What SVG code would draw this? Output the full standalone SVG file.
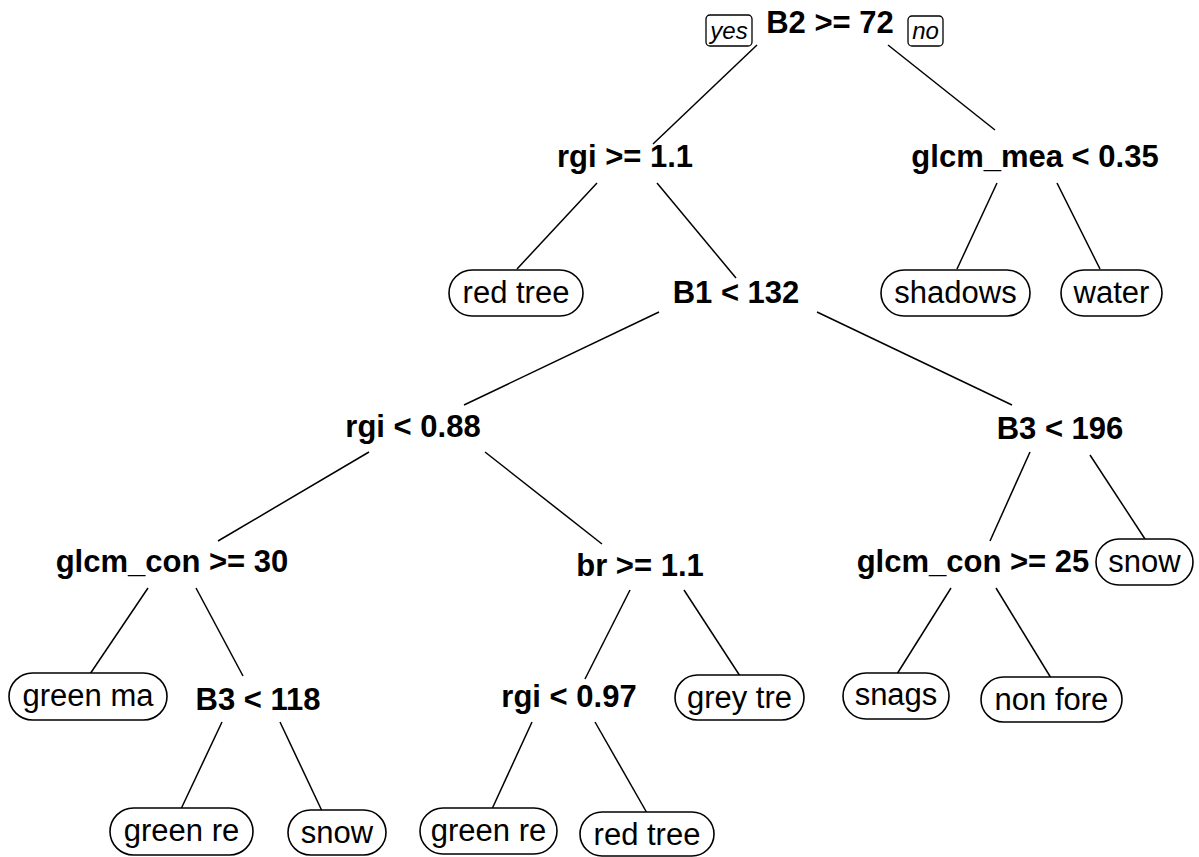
<svg xmlns="http://www.w3.org/2000/svg" width="1199" height="857" viewBox="0 0 1199 857">
  <style>
    .split { font-family: "Liberation Sans", Arial, sans-serif; font-weight: bold; font-size: 31px; text-anchor: middle; fill: #000; }
    .leaf rect { fill: #fff; stroke: #000; stroke-width: 1.6; }
    .leaf text { font-family: "Liberation Sans", Arial, sans-serif; font-size: 31px; text-anchor: middle; fill: #000; }
    .tag rect { fill: #fff; stroke: #000; stroke-width: 1.3; }
    .tag text { font-family: "Liberation Sans", Arial, sans-serif; font-style: italic; font-size: 24px; text-anchor: middle; fill: #000; }
    .edges line { stroke: #000; stroke-width: 1.5; }
  </style>
  <rect width="1199" height="857" fill="#fff"/>

  <!-- branches -->
  <g id="connectors" class="edges">
    <line x1="757" y1="45" x2="653" y2="144"/>
    <line x1="888" y1="45" x2="995" y2="130"/>
    <line x1="597" y1="183" x2="517" y2="269"/>
    <line x1="657" y1="183" x2="736" y2="278"/>
    <line x1="997" y1="183" x2="957" y2="269"/>
    <line x1="1057" y1="183" x2="1100" y2="269"/>
    <line x1="659" y1="312" x2="464" y2="405"/>
    <line x1="817" y1="312" x2="1012" y2="405"/>
    <line x1="369" y1="452" x2="218" y2="541"/>
    <line x1="485" y1="452" x2="602" y2="544"/>
    <line x1="1030" y1="452" x2="990" y2="541"/>
    <line x1="1090" y1="455" x2="1145" y2="539"/>
    <line x1="148" y1="588" x2="90" y2="674"/>
    <line x1="196" y1="588" x2="243" y2="676"/>
    <line x1="630" y1="590" x2="585" y2="679"/>
    <line x1="684" y1="590" x2="740" y2="676"/>
    <line x1="951" y1="588" x2="897" y2="674"/>
    <line x1="996" y1="588" x2="1051" y2="678"/>
    <line x1="222" y1="722" x2="181" y2="809"/>
    <line x1="280" y1="722" x2="322" y2="811"/>
    <line x1="532" y1="722" x2="492" y2="809"/>
    <line x1="595" y1="722" x2="647" y2="813"/>
  </g>

  <!-- yes / no tags at the root -->
  <g id="tag-yes" class="tag">
    <rect x="706" y="15" width="46" height="31" rx="4"/>
    <text x="729" y="39">yes</text>
  </g>
  <g id="tag-no" class="tag">
    <rect x="908" y="16" width="35" height="30" rx="4"/>
    <text x="925.5" y="39">no</text>
  </g>

  <!-- split nodes -->
  <g id="n-B2"><text class="split" x="830" y="33">B2 &gt;= 72</text></g>
  <g id="n-rgi-1.1"><text class="split" x="625" y="167">rgi &gt;= 1.1</text></g>
  <g id="n-glcm-mea"><text class="split" x="1035" y="167">glcm_mea &lt; 0.35</text></g>
  <g id="n-B1"><text class="split" x="736" y="303">B1 &lt; 132</text></g>
  <g id="n-rgi-0.88"><text class="split" x="413" y="437">rgi &lt; 0.88</text></g>
  <g id="n-B3-196"><text class="split" x="1060" y="439">B3 &lt; 196</text></g>
  <g id="n-glcm-con-30"><text class="split" x="172" y="572">glcm_con &gt;= 30</text></g>
  <g id="n-br"><text class="split" x="640" y="576">br &gt;= 1.1</text></g>
  <g id="n-glcm-con-25"><text class="split" x="973" y="572">glcm_con &gt;= 25</text></g>
  <g id="n-B3-118"><text class="split" x="258" y="710">B3 &lt; 118</text></g>
  <g id="n-rgi-0.97"><text class="split" x="569" y="707">rgi &lt; 0.97</text></g>

  <!-- leaves -->
  <g id="leaf-red-tree-1" class="leaf">
    <rect x="449" y="270" width="134" height="46" rx="23"/>
    <text x="516" y="303">red tree</text>
  </g>
  <g id="leaf-shadows" class="leaf">
    <rect x="881" y="270" width="149" height="46" rx="23"/>
    <text x="955.5" y="303">shadows</text>
  </g>
  <g id="leaf-water" class="leaf">
    <rect x="1061" y="270" width="101" height="46" rx="23"/>
    <text x="1111.5" y="303">water</text>
  </g>
  <g id="leaf-snow-1" class="leaf">
    <rect x="1096" y="539" width="97" height="46" rx="23"/>
    <text x="1144.5" y="572">snow</text>
  </g>
  <g id="leaf-green-ma" class="leaf">
    <rect x="9" y="673" width="158" height="47" rx="23.5"/>
    <text x="88" y="706">green ma</text>
  </g>
  <g id="leaf-snags" class="leaf">
    <rect x="843" y="673" width="106" height="46" rx="23"/>
    <text x="896" y="705">snags</text>
  </g>
  <g id="leaf-non-fore" class="leaf">
    <rect x="981" y="677" width="141" height="45" rx="22.5"/>
    <text x="1051.5" y="710">non fore</text>
  </g>
  <g id="leaf-grey-tre" class="leaf">
    <rect x="675" y="675" width="129" height="45" rx="22.5"/>
    <text x="739.5" y="708">grey tre</text>
  </g>
  <g id="leaf-green-re-1" class="leaf">
    <rect x="110" y="808" width="143" height="47" rx="23.5"/>
    <text x="181.5" y="841">green re</text>
  </g>
  <g id="leaf-snow-2" class="leaf">
    <rect x="288" y="810" width="98" height="45" rx="22.5"/>
    <text x="337" y="843">snow</text>
  </g>
  <g id="leaf-green-re-2" class="leaf">
    <rect x="420" y="808" width="137" height="46" rx="23"/>
    <text x="488.5" y="841">green re</text>
  </g>
  <g id="leaf-red-tree-2" class="leaf">
    <rect x="580" y="812" width="134" height="44" rx="22"/>
    <text x="647" y="845">red tree</text>
  </g>
</svg>
